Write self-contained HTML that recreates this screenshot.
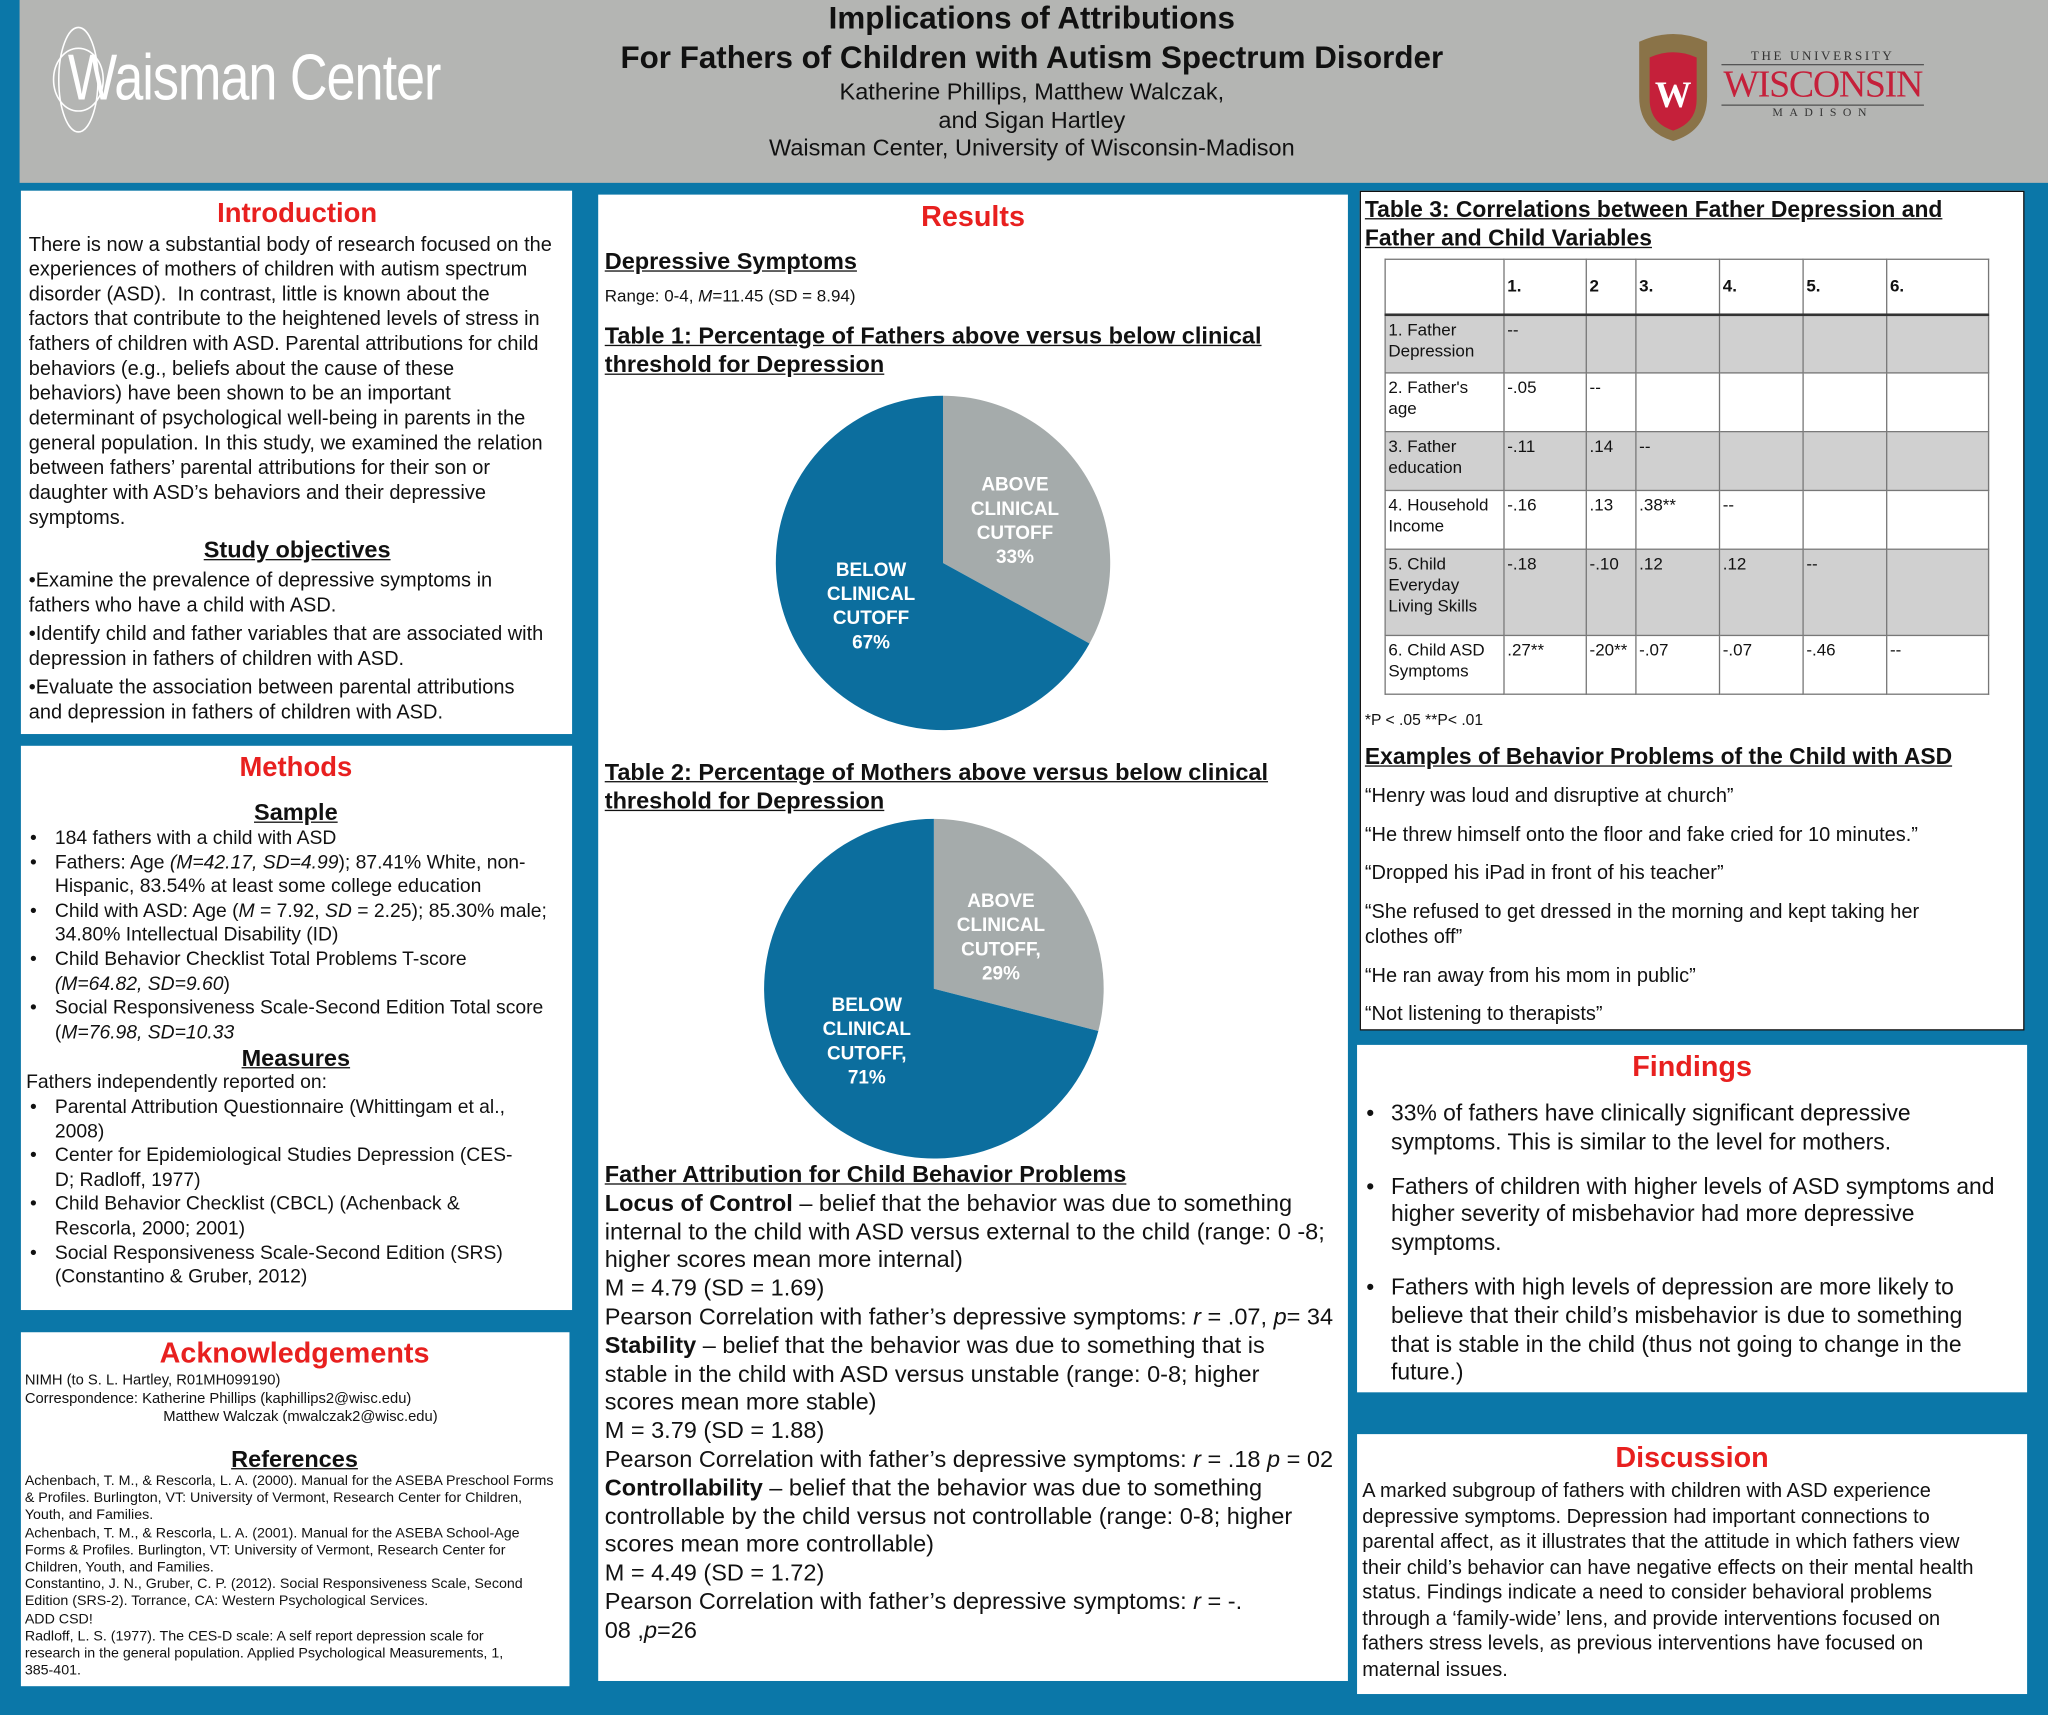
<!DOCTYPE html>
<html><head><meta charset="utf-8">
<style>
html,body{margin:0;padding:0;}
body{width:2048px;height:1715px;overflow:hidden;background:#0b77a8;font-family:"Liberation Sans",Arial,sans-serif;color:#111;}
#root{position:absolute;left:0;top:0;width:1568px;height:1313px;transform:scale(1.30612);transform-origin:0 0;}
.box{position:absolute;background:#fff;box-sizing:border-box;}
.abs{position:absolute;white-space:nowrap;}
.red{color:#e8201f;font-weight:bold;text-align:center;}
.ul{text-decoration:underline;font-weight:bold;}
.t{font-size:15.3px;line-height:19px;}
.tm{font-size:14.8px;line-height:18.6px;}
.m{font-size:18px;line-height:21.8px;white-space:nowrap;}
ul.b{margin:0;padding:0 0 0 22px;list-style:none;}
ul.b li{position:relative;}
ul.b li:before{content:"•";position:absolute;left:-19px;}
table.c{border-collapse:collapse;font-size:13px;line-height:16px;}
table.c td{border:1px solid #777;vertical-align:top;padding:3px 2px;}
table.c tr.g td{background:#d0d0d0;}
</style></head><body>
<div id="root">
<div class="abs" style="left:15px;top:0;width:1553px;height:140px;background:#b4b5b3;"></div>
<div class="abs" style="left:52px;top:30px;color:#fff;font-size:50px;letter-spacing:-1px;transform:scaleX(0.8);transform-origin:0 0;">Waisman Center</div>
<svg class="abs" style="left:38px;top:18px" width="44" height="86"><g fill="none" stroke="#fff" stroke-width="1.2"><ellipse cx="22" cy="43" rx="15" ry="40"/><ellipse cx="22" cy="43" rx="19" ry="24"/></g></svg>
<div class="abs" style="left:340px;top:0;width:900px;text-align:center;font-weight:bold;font-size:24px;line-height:30px;">Implications of Attributions<br>For Fathers of Children with Autism Spectrum Disorder</div>
<div class="abs" style="left:340px;top:60px;width:900px;text-align:center;font-size:18px;line-height:21.5px;">Katherine Phillips, Matthew Walczak,<br>and Sigan Hartley<br>Waisman Center, University of Wisconsin-Madison</div>
<svg class="abs" style="left:1250px;top:24px" width="62" height="86"><path d="M5 8 Q31 -4 57 8 L57 50 Q57 76 31 84 Q5 76 5 50Z" fill="#8a7348"/><path d="M13 20 Q31 12 49 20 L49 52 Q49 70 31 76 Q13 70 13 52Z" fill="#c5203a"/><text x="31" y="58" text-anchor="middle" fill="#fff" font-size="28" font-family="Liberation Serif" font-weight="bold">W</text></svg>
<div class="abs" style="left:1318px;top:38px;width:155px;text-align:center;font-family:'Liberation Serif',serif;">
<div style="font-size:10px;letter-spacing:2px;color:#333;">THE UNIVERSITY</div>
<div style="border-top:1px solid #555;border-bottom:1px solid #555;color:#c5203a;font-size:29px;line-height:30px;letter-spacing:-1px;">WISCONSIN</div>
<div style="font-size:9px;letter-spacing:5px;color:#333;">MADISON</div></div>

<div class="box" style="left:16px;top:146px;width:422px;height:416px;padding:4px 5px 0 6px;">
<div class="red" style="font-size:21px;line-height:27px;">Introduction</div>
<div class="t" style="white-space:nowrap;margin-top:1px;">There is now a substantial body of research focused on the<br>experiences of mothers of children with autism spectrum<br>disorder (ASD).&nbsp; In contrast, little is known about the<br>factors that contribute to the heightened levels of stress in<br>fathers of children with ASD. Parental attributions for child<br>behaviors (e.g., beliefs about the cause of these<br>behaviors) have been shown to be an important<br>determinant of psychological well-being in parents in the<br>general population. In this study, we examined the relation<br>between fathers’ parental attributions for their son or<br>daughter with ASD’s behaviors and their depressive<br>symptoms.</div>
<div class="ul" style="text-align:center;font-size:18px;line-height:22px;margin-top:4px;">Study objectives</div>
<div class="t" style="white-space:nowrap;line-height:19px;margin-top:3px;">•Examine the prevalence of depressive symptoms in<br>fathers who have a child with ASD.<br><div style="height:3px"></div>•Identify child and father variables that are associated with<br>depression in fathers of children with ASD.<br><div style="height:3px"></div>•Evaluate the association between parental attributions<br>and depression in fathers of children with ASD.</div>
</div>

<div class="box" style="left:16px;top:571px;width:422px;height:432px;padding:3px 5px 0 4px;">
<div class="red" style="font-size:21px;line-height:28px;">Methods</div>
<div class="ul" style="text-align:center;font-size:18px;line-height:22px;margin-top:9px;">Sample</div>
<ul class="b tm" style="white-space:nowrap;">
<li>184 fathers with a child with ASD</li>
<li>Fathers: Age <i>(M=42.17, SD=4.99</i>); 87.41% White, non-<br>Hispanic, 83.54% at least some college education</li>
<li>Child with ASD: Age (<i>M</i> = 7.92, <i>SD</i> = 2.25); 85.30% male;<br>34.80% Intellectual Disability (ID)</li>
<li>Child Behavior Checklist Total Problems T-score<br><i>(M=64.82, SD=9.60</i>)</li>
<li>Social Responsiveness Scale-Second Edition Total score<br>(<i>M=76.98, SD=10.33</i></li></ul>
<div class="ul" style="text-align:center;font-size:18px;line-height:20px;">Measures</div>
<div class="tm">Fathers independently reported on:</div>
<ul class="b tm" style="white-space:nowrap;">
<li>Parental Attribution Questionnaire (Whittingam et al.,<br>2008)</li>
<li>Center for Epidemiological Studies Depression (CES-<br>D; Radloff, 1977)</li>
<li>Child Behavior Checklist (CBCL) (Achenback &amp;<br>Rescorla, 2000; 2001)</li>
<li>Social Responsiveness Scale-Second Edition (SRS)<br>(Constantino &amp; Gruber, 2012)</li></ul>
</div>

<div class="box" style="left:16px;top:1020px;width:420px;height:271px;padding:2px 4px 0 3px;">
<div class="red" style="font-size:22px;line-height:28px;">Acknowledgements</div>
<div style="font-size:11.3px;line-height:14px;white-space:nowrap;">NIMH (to S. L. Hartley, R01MH099190)<br>Correspondence: Katherine Phillips (kaphillips2@wisc.edu)<br><span style="padding-left:106px">Matthew Walczak (mwalczak2@wisc.edu)</span></div>
<div class="ul" style="text-align:center;font-size:18px;line-height:22px;margin-top:14px;">References</div>
<div style="font-size:10.9px;line-height:13.2px;white-space:nowrap;">Achenbach, T. M., &amp; Rescorla, L. A. (2000). Manual for the ASEBA Preschool Forms<br>&amp; Profiles. Burlington, VT: University of Vermont, Research Center for Children,<br>Youth, and Families.<br>Achenbach, T. M., &amp; Rescorla, L. A. (2001). Manual for the ASEBA School-Age<br>Forms &amp; Profiles. Burlington, VT: University of Vermont, Research Center for<br>Children, Youth, and Families.<br>Constantino, J. N., Gruber, C. P. (2012). Social Responsiveness Scale, Second<br>Edition (SRS-2). Torrance, CA: Western Psychological Services.<br>ADD CSD!<br>Radloff, L. S. (1977). The CES-D scale: A self report depression scale for<br>research in the general population. Applied Psychological Measurements, 1,<br>385-401.</div>
</div>

<div class="box" style="left:458px;top:149px;width:574px;height:1138px;">
<div class="red abs" style="left:0;width:574px;top:3px;font-size:22px;line-height:28px;">Results</div>
<div class="abs ul" style="left:5px;top:41px;font-size:18px;">Depressive Symptoms</div>
<div class="abs" style="left:5px;top:70px;font-size:13px;">Range: 0-4, <i>M</i>=11.45 (SD = 8.94)</div>
<div class="abs ul" style="left:5px;top:97px;font-size:18px;line-height:22px;">Table 1: Percentage of Fathers above versus below clinical<br>threshold for Depression</div>
<div class="abs ul" style="left:5px;top:431px;font-size:18px;line-height:22px;">Table 2: Percentage of Mothers above versus below clinical<br>threshold for Depression</div>
<div class="abs m" style="left:5px;top:740px;"><span class="ul">Father Attribution for Child Behavior Problems</span><br><b>Locus of Control</b> – belief that the behavior was due to something<br>internal to the child with ASD versus external to the child (range: 0 -8;<br>higher scores mean more internal)<br>M = 4.79 (SD = 1.69)<br>Pearson Correlation with father’s depressive symptoms: <i>r</i> = .07, <i>p</i>= 34<br><b>Stability</b> – belief that the behavior was due to something that is<br>stable in the child with ASD versus unstable (range: 0-8; higher<br>scores mean more stable)<br>M = 3.79 (SD = 1.88)<br>Pearson Correlation with father’s depressive symptoms: <i>r</i> = .18 <i>p</i> = 02<br><b>Controllability</b> – belief that the behavior was due to something<br>controllable by the child versus not controllable (range: 0-8; higher<br>scores mean more controllable)<br>M = 4.49 (SD = 1.72)<br>Pearson Correlation with father’s depressive symptoms: <i>r</i> = -.<br>08 ,<i>p</i>=26</div>
</div>
<svg id="pies" class="abs" style="left:0;top:0" width="1568" height="1313"></svg>

<div class="box" style="left:1041px;top:146px;width:509px;height:643px;border:1.5px solid #111;padding:2px 3px;">
<div class="ul" style="font-size:17.5px;line-height:22px;white-space:nowrap;">Table 3: Correlations between Father Depression and<br>Father and Child Variables</div>
<table class="c" style="margin:5px 0 0 15px;width:463px;">
<tr style="height:42px"><td style="width:86px"></td><td style="width:58px;vertical-align:middle"><b>1.</b></td><td style="width:33px;vertical-align:middle"><b>2</b></td><td style="width:59px;vertical-align:middle"><b>3.</b></td><td style="width:59px;vertical-align:middle"><b>4.</b></td><td style="width:59px;vertical-align:middle"><b>5.</b></td><td style="vertical-align:middle"><b>6.</b></td></tr>
<tr class="g" style="height:45px;border-top:2px solid #333"><td>1. Father Depression</td><td>--</td><td></td><td></td><td></td><td></td><td></td></tr>
<tr style="height:45px"><td>2. Father's age</td><td>-.05</td><td>--</td><td></td><td></td><td></td><td></td></tr>
<tr class="g" style="height:45px"><td>3. Father education</td><td>-.11</td><td>.14</td><td>--</td><td></td><td></td><td></td></tr>
<tr style="height:45px"><td>4. Household Income</td><td>-.16</td><td>.13</td><td>.38**</td><td>--</td><td></td><td></td></tr>
<tr class="g" style="height:66px"><td>5. Child Everyday Living Skills</td><td>-.18</td><td>-.10</td><td>.12</td><td>.12</td><td>--</td><td></td></tr>
<tr style="height:45px"><td>6. Child ASD Symptoms</td><td>.27**</td><td>-20**</td><td>-.07</td><td>-.07</td><td>-.46</td><td>--</td></tr>
</table>
<div style="font-size:12px;margin-top:12px;">*P &lt; .05 **P&lt; .01</div>
<div class="ul" style="font-size:17.5px;line-height:22px;margin-top:10px;">Examples of Behavior Problems of the Child with ASD</div>
<div style="font-size:15.3px;line-height:19.5px;white-space:nowrap;">
<div style="margin-top:10px">“Henry was loud and disruptive at church”</div>
<div style="margin-top:10px">“He threw himself onto the floor and fake cried for 10 minutes.”</div>
<div style="margin-top:10px">“Dropped his iPad in front of his teacher”</div>
<div style="margin-top:10px">“She refused to get dressed in the morning and kept taking her<br>clothes off”</div>
<div style="margin-top:10px">“He ran away from his mom in public”</div>
<div style="margin-top:10px">“Not listening to therapists”</div></div>
</div>

<div class="box" style="left:1039px;top:800px;width:513px;height:266px;padding:2px 4px;">
<div class="red" style="font-size:22px;line-height:30px;">Findings</div>
<ul class="b" style="font-size:17.5px;line-height:21.8px;white-space:nowrap;padding-left:22px;margin-top:10px;">
<li>33% of fathers have clinically significant depressive<br>symptoms. This is similar to the level for mothers.</li>
<li style="margin-top:12px">Fathers of children with higher levels of ASD symptoms and<br>higher severity of misbehavior had more depressive<br>symptoms.</li>
<li style="margin-top:12px">Fathers with high levels of depression are more likely to<br>believe that their child’s misbehavior is due to something<br>that is stable in the child (thus not going to change in the<br>future.)</li></ul>
</div>

<div class="box" style="left:1039px;top:1098px;width:513px;height:199px;padding:2px 4px;">
<div class="red" style="font-size:22px;line-height:32px;">Discussion</div>
<div style="font-size:15.3px;line-height:19.5px;white-space:nowrap;">A marked subgroup of fathers with children with ASD experience<br>depressive symptoms. Depression had important connections to<br>parental affect, as it illustrates that the attitude in which fathers view<br>their child’s behavior can have negative effects on their mental health<br>status. Findings indicate a need to consider behavioral problems<br>through a ‘family-wide’ lens, and provide interventions focused on<br>fathers stress levels, as previous interventions have focused on<br>maternal issues.</div>
</div>
</div>

<script>
const pieNames = ["fathers", "mothers"];
const abovePct = [33, 29];
const belowPct = [67, 71];
const aboveLabels = [["ABOVE","CLINICAL","CUTOFF","33%"],["ABOVE","CLINICAL","CUTOFF,","29%"]];
const belowLabels = [["BELOW","CLINICAL","CUTOFF","67%"],["BELOW","CLINICAL","CUTOFF,","71%"]];
const pieCenters = [[722,431],[715,757]];
const pieRadius = [128,130];
const svg = document.getElementById('pies');
const NS = 'http://www.w3.org/2000/svg';
function pt(cx,cy,r,frac){const a=frac*2*Math.PI-Math.PI/2;return [cx+r*Math.cos(a),cy+r*Math.sin(a)];}
function slice(cx,cy,r,f0,f1,color,name){
  const p0=pt(cx,cy,r,f0),p1=pt(cx,cy,r,f1);const large=(f1-f0)>0.5?1:0;
  const p=document.createElementNS(NS,'path');
  p.setAttribute('d',`M${cx},${cy}L${p0[0]},${p0[1]}A${r},${r} 0 ${large} 1 ${p1[0]},${p1[1]}Z`);
  p.setAttribute('fill',color);
  
  
  svg.appendChild(p);
}
function label(cx,cy,r,fmid,dist,lines,name){
  const c=pt(cx,cy,r*dist,fmid);
  const t=document.createElementNS(NS,'text');
  
  
  t.setAttribute('text-anchor','middle');t.setAttribute('fill','#fff');t.setAttribute('font-size','14.5');t.setAttribute('font-weight','bold');t.setAttribute('font-family','Liberation Sans, sans-serif');
  lines.forEach((s,i)=>{const ts=document.createElementNS(NS,'tspan');ts.setAttribute('x',c[0]);ts.setAttribute('y',c[1]+(i-(lines.length-1)/2)*18.5+5);ts.textContent=s;t.appendChild(ts);});
  svg.appendChild(t);
}
pieNames.forEach((n,i)=>{
  const [cx,cy]=pieCenters[i],r=pieRadius[i];
  const a=abovePct[i]/100,b=belowPct[i]/100;
  slice(cx,cy,r,0,a,'#a5abab','pie-'+n+'-above');
  slice(cx,cy,r,a,a+b,'#0c6e9e','pie-'+n+'-below');
  label(cx,cy,r,a/2,0.5,aboveLabels[i],'pie-'+n+'-above-label');
  label(cx,cy,r,a+b/2,0.5,belowLabels[i],'pie-'+n+'-below-label');
});
</script>
</body></html>
